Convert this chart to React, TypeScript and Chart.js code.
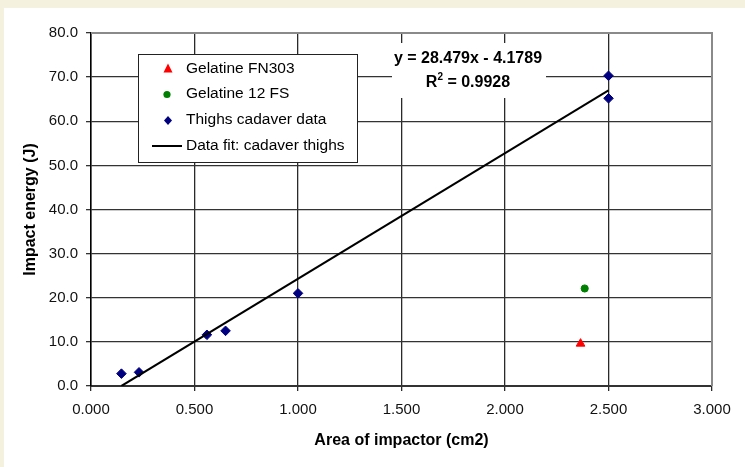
import React, { useEffect, useRef } from "react";
import { Chart, registerables } from "chart.js";

Chart.register(...registerables);

// ---- data ----
const fn303X = [2.365];
const fn303Y = [9.6];
const gel12X = [2.385];
const gel12Y = [22.1];
const thighsX = [0.147, 0.232, 0.56, 0.65, 1.0, 2.5, 2.5];
const thighsY = [2.8, 3.1, 11.6, 12.5, 21.0, 70.3, 65.2];
const fitX = [0.147, 2.5];
const fitY = [0.008, 67.02];

const xTickLabels = ["0.000", "0.500", "1.000", "1.500", "2.000", "2.500", "3.000"];
const yTickLabels = ["0.0", "10.0", "20.0", "30.0", "40.0", "50.0", "60.0", "70.0", "80.0"];

const seriesNames = ["Gelatine FN303", "Gelatine 12 FS", "Thighs cadaver data", "Data fit: cadaver thighs"];
const equationText = "y = 28.479x - 4.1789";
const r2Value = "0.9928";

const FONT = "'Liberation Sans', Arial, Helvetica, sans-serif";

const pts = (xs: number[], ys: number[]) => xs.map((x, i) => ({ x, y: ys[i] }));

const decor = {
  id: "decor",
  beforeDatasetsDraw(chart: any) {
    const { ctx, chartArea: a } = chart;
    ctx.save();
    ctx.strokeStyle = "#8a8a8a";
    ctx.lineWidth = 2;
    ctx.beginPath();
    ctx.moveTo(a.left, a.top);
    ctx.lineTo(a.right, a.top);
    ctx.lineTo(a.right, a.bottom);
    ctx.stroke();
    ctx.restore();
  },
  afterDatasetsDraw(chart: any) {
    const { ctx } = chart;
    ctx.save();
    // ---- legend ----
    const bx = 134.5, by = 46.5, bw = 219, bh = 108;
    ctx.fillStyle = "#ffffff";
    ctx.fillRect(bx, by, bw, bh);
    ctx.strokeStyle = "#222";
    ctx.lineWidth = 1;
    ctx.strokeRect(bx, by, bw, bh);
    const rows = [60.5, 86, 111.5, 137.5];
    const mx = 164;
    // triangle
    ctx.fillStyle = "#ff0000";
    ctx.beginPath();
    ctx.moveTo(mx, rows[0] - 5);
    ctx.lineTo(mx + 4.5, rows[0] + 4);
    ctx.lineTo(mx - 4.5, rows[0] + 4);
    ctx.closePath();
    ctx.fill();
    // circle
    ctx.fillStyle = "#008000";
    ctx.beginPath();
    ctx.arc(mx - 1, rows[1] + 0.5, 3.6, 0, Math.PI * 2);
    ctx.fill();
    // diamond
    ctx.fillStyle = "#000080";
    ctx.beginPath();
    ctx.moveTo(mx, rows[2] + 1 - 4.5);
    ctx.lineTo(mx + 4, rows[2] + 1);
    ctx.lineTo(mx, rows[2] + 1 + 4.5);
    ctx.lineTo(mx - 4, rows[2] + 1);
    ctx.closePath();
    ctx.fill();
    // line
    ctx.strokeStyle = "#000";
    ctx.lineWidth = 2;
    ctx.beginPath();
    ctx.moveTo(148, rows[3] + 0.5);
    ctx.lineTo(178, rows[3] + 0.5);
    ctx.stroke();
    ctx.fillStyle = "#000";
    ctx.font = `15.5px ${FONT}`;
    ctx.textBaseline = "middle";
    ctx.textAlign = "left";
    seriesNames.forEach((n, i) => ctx.fillText(n, 182, rows[i]));

    // ---- equation label ----
    ctx.fillStyle = "#ffffff";
    ctx.fillRect(388, 35, 154, 55);
    ctx.fillStyle = "#000";
    ctx.font = `bold 16px ${FONT}`;
    ctx.textAlign = "center";
    ctx.fillText(equationText, 464, 50.5);
    const a = "R";
    const b = " = " + r2Value;
    ctx.font = `bold 16px ${FONT}`;
    const wa = ctx.measureText(a).width;
    const wb = ctx.measureText(b).width;
    ctx.font = `bold 10px ${FONT}`;
    const ws = ctx.measureText("2").width;
    const total = wa + ws + wb;
    const x0 = 464 - total / 2;
    ctx.textAlign = "left";
    ctx.font = `bold 16px ${FONT}`;
    ctx.fillText(a, x0, 74.5);
    ctx.font = `bold 10px ${FONT}`;
    ctx.fillText("2", x0 + wa, 69);
    ctx.font = `bold 16px ${FONT}`;
    ctx.fillText(b, x0 + wa + ws, 74.5);
    ctx.restore();
  },
};

export default function App() {
  const ref = useRef<HTMLCanvasElement | null>(null);
  useEffect(() => {
    if (!ref.current) return;
    const chart = new Chart(ref.current, {
      type: "scatter",
      data: {
        datasets: [
          {
            label: seriesNames[3],
            data: pts(fitX, fitY),
            showLine: true,
            borderColor: "#000",
            borderWidth: 2,
            pointRadius: 0,
            fill: false,
          },
          {
            label: seriesNames[0],
            data: pts(fn303X, fn303Y),
            pointStyle: "triangle",
            pointRadius: 5,
            backgroundColor: "#ff0000",
            borderColor: "#ff0000",
            borderWidth: 1,
          },
          {
            label: seriesNames[1],
            data: pts(gel12X, gel12Y),
            pointStyle: "circle",
            pointRadius: 3.6,
            backgroundColor: "#008000",
            borderColor: "#008000",
            borderWidth: 1,
          },
          {
            label: seriesNames[2],
            data: pts(thighsX, thighsY),
            pointStyle: "rectRot",
            pointRadius: 4.8,
            backgroundColor: "#000080",
            borderColor: "#000080",
            borderWidth: 1,
          },
        ],
      },
      options: {
        responsive: false,
        animation: false,
        devicePixelRatio: 1,
        layout: { padding: { top: 25, right: 33, left: 0, bottom: 0 } },
        plugins: { legend: { display: false }, tooltip: { enabled: false } },
        scales: {
          x: {
            type: "linear",
            min: 0,
            max: 3,
            afterFit: (s: any) => {
              s.height = 81;
            },
            ticks: {
              stepSize: 0.5,
              padding: 10,
              color: "#111",
              font: { family: FONT, size: 15 },
              maxRotation: 0,
              callback: (_v: any, i: number) => xTickLabels[i],
            },
            grid: { color: "#2a2a2a", lineWidth: 1.3, tickLength: 5 },
            border: { color: "#333", width: 2 },
            title: {
              display: true,
              text: "Area of impactor (cm2)",
              color: "#000",
              font: { family: FONT, size: 16, weight: "bold" },
              padding: { top: 0, bottom: 17 },
            },
          },
          y: {
            type: "linear",
            min: 0,
            max: 80,
            afterFit: (s: any) => {
              s.width = 87;
            },
            ticks: {
              stepSize: 10,
              padding: 8,
              color: "#111",
              font: { family: FONT, size: 15 },
              callback: (_v: any, i: number) => yTickLabels[i],
            },
            grid: { color: "#333", lineWidth: 1.3, tickLength: 5 },
            border: { color: "#000", width: 1.5 },
            title: {
              display: true,
              text: "Impact energy (J)",
              color: "#000",
              font: { family: FONT, size: 16, weight: "bold" },
              padding: { top: 17, bottom: 0 },
            },
          },
        },
      },
      plugins: [decor],
    });
    return () => chart.destroy();
  }, []);

  return (
    <div
      style={{
        position: "absolute",
        left: 0,
        top: 0,
        width: 745,
        height: 467,
        background: "#f4f1df",
        overflow: "hidden",
      }}
    >
      <div style={{ position: "absolute", left: 4, top: 8, width: 741, height: 459, background: "#ffffff" }}>
        <canvas ref={ref} width={741} height={459} style={{ display: "block" }} />
      </div>
    </div>
  );
}
